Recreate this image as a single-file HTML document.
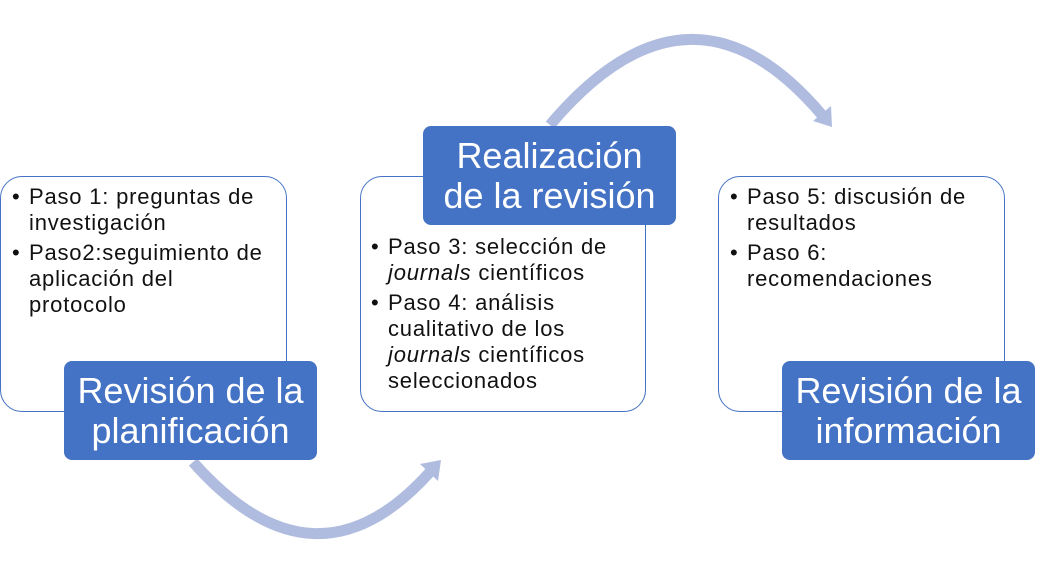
<!DOCTYPE html>
<html><head><meta charset="utf-8"><style>
body{margin:0;width:1043px;height:587px;background:#fff;position:relative;overflow:hidden;font-family:"Liberation Sans","DejaVu Sans",sans-serif;}
.box{position:absolute;border:1.3px solid #4472C4;border-radius:22px;background:#fff;box-sizing:border-box;}
.lab{position:absolute;background:#4472C4;border-radius:8px;color:#fff;font-size:36px;line-height:40px;text-align:center;display:flex;align-items:center;justify-content:center;white-space:nowrap;}
.txt{position:absolute;font-size:22px;letter-spacing:0.8px;line-height:26px;color:#111;white-space:nowrap;}
.txt div{position:relative;padding-left:17px;}
.txt div+div{margin-top:4px;}
.txt div:before{content:"•";position:absolute;left:0;}
</style></head><body>
<svg width="1043" height="587" style="position:absolute;left:0;top:0">
<path d="M193 462 Q315 600 430 472" fill="none" stroke="#B0BCDF" stroke-width="11"/>
<polygon points="441,460 438,481 420,464" fill="#B0BCDF"/>
<path d="M550 125 Q690 -41 822 115" fill="none" stroke="#B0BCDF" stroke-width="11"/>
<polygon points="832,127 831,106 813,121" fill="#B0BCDF"/>
</svg>
<div class="box" style="left:0;top:176px;width:287px;height:236px"></div>
<div class="box" style="left:360px;top:176px;width:286px;height:236px"></div>
<div class="box" style="left:718px;top:176px;width:287px;height:236px"></div>
<div class="txt" style="left:12px;top:184px">
<div>Paso 1: preguntas de<br>investigación</div>
<div>Paso2:seguimiento de<br>aplicación del<br>protocolo</div>
</div>
<div class="txt" style="left:371px;top:234px">
<div>Paso 3: selección de<br><i>journals</i> científicos</div>
<div>Paso 4: análisis<br>cualitativo de los<br><i>journals</i> científicos<br>seleccionados</div>
</div>
<div class="txt" style="left:730px;top:184px">
<div>Paso 5: discusión de<br>resultados</div>
<div>Paso 6:<br>recomendaciones</div>
</div>
<div class="lab" style="left:64px;top:361px;width:253px;height:99px">Revisión de la<br>planificación</div>
<div class="lab" style="left:423px;top:126px;width:253px;height:99px">Realización<br>de la revisión</div>
<div class="lab" style="left:782px;top:361px;width:253px;height:99px">Revisión de la<br>información</div>
</body></html>
